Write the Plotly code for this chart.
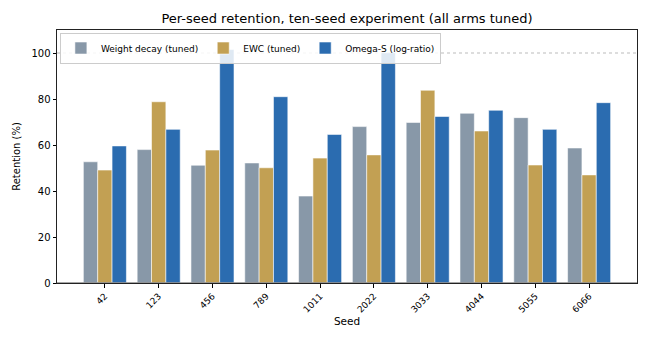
import plotly.graph_objects as go

seeds = ["42", "123", "456", "789", "1011", "2022", "3033", "4044", "5055", "6066"]
weight_decay = [52.7, 58.0, 51.2, 52.2, 37.8, 68.0, 69.8, 73.8, 71.9, 58.7]
ewc = [49.1, 78.8, 57.8, 50.1, 54.3, 55.7, 83.8, 66.1, 51.3, 47.0]
omega_s = [59.6, 66.8, 101.5, 81.0, 64.6, 100.1, 72.4, 75.1, 66.8, 78.4]

series_names = ["Weight decay (tuned)", "EWC (tuned)", "Omega-S (log-ratio)"]
series_colors = ["#8898A8", "#C2A053", "#2B6CB0"]
series_vals = [weight_decay, ewc, omega_s]

FONT = "DejaVu Sans"
x_idx = list(range(len(seeds)))

fig = go.Figure()
for name, col, vals in zip(series_names, series_colors, series_vals):
    fig.add_trace(go.Bar(
        x=x_idx, y=vals, name=name,
        marker=dict(color=col, line=dict(color="rgba(255,255,255,0.7)", width=0.8)),
    ))

fig.add_shape(type="line", xref="paper", yref="y", x0=0, x1=1, y0=100, y1=100,
              line=dict(color="#bbbbbb", width=1, dash="dot"), layer="below")
fig.add_shape(type="line", xref="paper", yref="y", x0=0, x1=1, y0=0, y1=0,
              line=dict(color="#888888", width=1.5), layer="above")

fig.update_layout(
    width=650, height=341,
    margin=dict(l=57, r=13, t=30, b=58),
    paper_bgcolor="white", plot_bgcolor="white",
    barmode="group", bargap=0.2, bargroupgap=0,
    font=dict(family=FONT, color="#000000", size=10),
    title=dict(text="Per-seed retention, ten-seed experiment (all arms tuned)",
               x=0.5, xref="paper", y=0.958, yref="container", xanchor="center",
               font=dict(family=FONT, size=13, color="#000")),
    legend=dict(orientation="h", x=0.005, y=0.99, xanchor="left", yanchor="top",
                bgcolor="rgba(255,255,255,0.85)", bordercolor="#cccccc", borderwidth=1,
                font=dict(family=FONT, size=9), itemwidth=30, tracegroupgap=0),
    xaxis=dict(
        range=[-0.89, 9.89], tickmode="array", tickvals=x_idx, ticktext=seeds,
        tickangle=-45, tickfont=dict(size=9),
        ticks="outside", ticklen=3.5, tickcolor="#000", showgrid=False, zeroline=False,
        showline=True, linecolor="#222", linewidth=1, mirror=True,
        title=dict(text="Seed", font=dict(size=10.5), standoff=4),
    ),
    yaxis=dict(
        range=[0, 110], tickvals=[0, 20, 40, 60, 80, 100],
        ticks="outside", ticklen=3.5, tickcolor="#000", showgrid=False, zeroline=False,
        showline=True, linecolor="#222", linewidth=1, mirror=True,
        tickfont=dict(size=10),
        title=dict(text="Retention (%)", font=dict(size=10), standoff=8),
    ),
)

fig.write_html("out.html")
